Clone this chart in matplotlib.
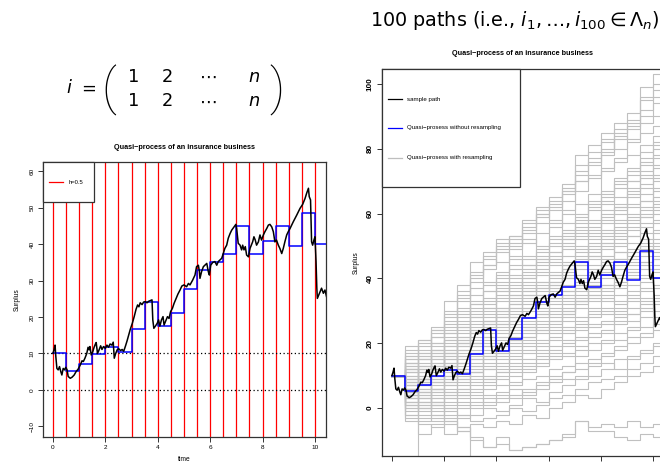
import numpy as np
import matplotlib.pyplot as plt
from matplotlib.patches import Rectangle

plt.rcParams["font.family"] = ["Liberation Sans", "DejaVu Sans"]
plt.rcParams["mathtext.fontset"] = "dejavusans"

# step width of the quasi-process
h = 0.5

# quasi-process without resampling (level on each interval of length h)
blue_levels = [10.0, 5.3, 7.0, 9.9, 11.8, 10.5, 16.8, 24.0, 17.5, 21.2, 27.7,
               32.8, 35.0, 37.2, 45.0, 37.2, 40.9, 45.0, 39.6, 48.6, 40.1]

# sample path of the surplus process
path_t = [0, 0.04, 0.08, 0.11, 0.15, 0.2, 0.25, 0.3, 0.34, 0.39, 0.44, 0.49,
          0.54, 0.58, 0.66, 0.73, 0.81, 0.88, 0.96, 1.04, 1.11, 1.16, 1.22,
          1.29, 1.34, 1.38, 1.41, 1.46, 1.52, 1.57, 1.62, 1.65, 1.70, 1.75,
          1.82, 1.87, 1.93, 2.0, 2.06, 2.12, 2.18, 2.25, 2.3, 2.34, 2.39,
          2.45, 2.51, 2.58, 2.64, 2.7, 2.77, 2.83, 2.89, 2.95, 3.03, 3.1,
          3.17, 3.23, 3.28, 3.33, 3.4, 3.46, 3.52, 3.59, 3.65, 3.71, 3.78,
          3.81, 3.85, 3.91, 3.98, 4.03, 4.08, 4.14, 4.2, 4.24, 4.31, 4.37,
          4.43, 4.49, 4.56, 4.62, 4.7, 4.77, 4.85, 4.92, 5.0, 5.1, 5.17,
          5.23, 5.33, 5.42, 5.48, 5.55, 5.59, 5.61, 5.67, 5.74, 5.8, 5.87,
          5.93, 5.97, 6.02, 6.1, 6.18, 6.25, 6.31, 6.37, 6.44, 6.5, 6.56,
          6.63, 6.69, 6.76, 6.82, 6.91, 6.98, 7.01, 7.07, 7.14, 7.2, 7.24,
          7.29, 7.34, 7.39, 7.46, 7.52, 7.57, 7.62, 7.67, 7.72, 7.77, 7.84,
          7.9, 7.96, 8.03, 8.09, 8.16, 8.22, 8.28, 8.35, 8.41, 8.47, 8.53,
          8.6, 8.66, 8.73, 8.79, 8.85, 8.92, 8.98, 9.05, 9.17, 9.3, 9.43,
          9.53, 9.62, 9.68, 9.75, 9.78, 9.83, 9.87, 9.91, 9.96, 10.0, 10.04,
          10.07, 10.09, 10.17, 10.25, 10.32, 10.38, 10.44]
path_y = [10.0, 11.0, 12.3, 9.1, 5.9, 5.5, 6.4, 5.0, 4.1, 5.9, 5.5, 6.2,
          5.5, 3.7, 3.2, 3.5, 4.1, 5.0, 5.7, 6.8, 8.0, 7.8, 8.7,
          10.0, 11.7, 11.0, 11.9, 9.6, 10.5, 11.7, 12.6, 13.0, 10.0, 10.8,
          12.1, 11.1, 11.9, 11.4, 12.3, 11.7, 12.6, 12.3, 13.1, 8.7, 9.9,
          11.0, 11.3, 10.8, 11.1, 10.6, 12.1, 13.5, 15.1, 16.6, 18.3, 20.1,
          22.1, 23.3, 22.8, 23.9, 23.4, 24.1, 24.2, 23.9, 24.3, 24.5, 24.7,
          19.2, 16.9, 17.5, 18.3, 19.2, 17.5, 19.2, 20.1, 17.8, 19.0, 20.1,
          19.6, 21.5, 22.4, 23.7, 25.1, 26.3, 27.4, 28.5, 28.8, 28.3, 29.2,
          28.8, 30.1, 31.5, 33.8, 34.2, 32.4, 30.6, 32.4, 33.8, 34.2, 34.7,
          32.4, 31.5, 34.2, 35.0, 35.2, 34.2, 35.2, 35.6, 36.1, 37.4, 38.8,
          39.7, 41.6, 42.9, 43.8, 44.7, 45.4, 44.3, 40.2, 39.7, 38.4, 39.7,
          38.4, 39.3, 37.0, 36.5, 38.8, 39.7, 40.6, 42.0, 41.1, 39.7, 40.6,
          42.5, 41.1, 42.5, 43.4, 44.3, 45.2, 45.4, 44.7, 43.4, 40.6, 41.1,
          39.7, 38.8, 37.4, 38.8, 40.6, 42.5, 43.4, 44.3, 46.1, 47.9, 49.8,
          50.9, 52.5, 53.9, 55.3, 53.0, 52.1, 40.6, 39.7, 41.1, 42.0, 35.2,
          27.9, 25.1, 26.5, 27.9, 26.5, 27.4, 25.6]

# quasi-process with resampling, one list per path (levels per interval)
resample_paths = [
    [10, 17, 21, 25, 33, 36, 45, 48, 51, 53, 58, 62, 65, 69, 78, 81, 85, 88, 91, 99, 103],
    [10, 19, 16, 22, 27, 38, 41, 44, 52, 50, 55, 57, 63, 67, 70, 75, 79, 86, 89, 95, 98],
    [10, 12, 18, 24, 29, 31, 40, 46, 45, 53, 51, 59, 61, 64, 73, 77, 83, 80, 87, 92, 96],
    [10, 15, 21, 19, 25, 33, 37, 43, 48, 47, 56, 60, 58, 66, 70, 72, 78, 84, 83, 88, 90],
    [10, 14, 13, 20, 26, 28, 35, 39, 42, 49, 52, 50, 56, 61, 67, 71, 74, 76, 82, 85, 87],
    [10, 9, 15, 17, 23, 30, 29, 36, 40, 44, 46, 54, 57, 60, 63, 66, 73, 77, 78, 81, 84],
    [10, 16, 11, 14, 21, 24, 32, 34, 37, 43, 47, 49, 53, 55, 60, 64, 67, 71, 74, 79, 80],
    [10, 7, 13, 18, 16, 22, 27, 31, 38, 35, 41, 45, 48, 52, 57, 58, 63, 65, 70, 73, 77],
    [10, 13, 9, 12, 19, 25, 23, 28, 33, 39, 37, 43, 46, 50, 53, 56, 59, 62, 67, 69, 72],
    [10, 11, 14, 10, 15, 20, 26, 25, 30, 34, 40, 41, 44, 47, 49, 54, 57, 60, 63, 66, 68],
    [10, 5, 8, 15, 13, 18, 21, 29, 27, 32, 35, 39, 37, 43, 46, 50, 52, 56, 58, 62, 65],
    [10, 8, 12, 11, 17, 14, 19, 23, 26, 29, 33, 34, 40, 42, 45, 48, 49, 53, 55, 59, 61],
    [10, 6, 4, 9, 12, 16, 18, 21, 24, 30, 28, 32, 35, 38, 41, 43, 47, 50, 51, 54, 57],
    [10, 12, 7, 6, 11, 17, 15, 19, 22, 25, 30, 29, 33, 36, 38, 42, 44, 46, 49, 52, 54],
    [10, 3, 6, 8, 7, 13, 16, 17, 20, 23, 26, 30, 28, 32, 35, 37, 40, 43, 45, 47, 50],
    [10, 9, 5, 7, 10, 9, 14, 20, 18, 21, 24, 27, 31, 30, 34, 39, 36, 41, 42, 45, 46],
    [10, 4, 7, 3, 8, 11, 12, 15, 19, 17, 22, 25, 26, 29, 31, 33, 35, 38, 40, 41, 44],
    [10, 7, 2, 5, 4, 8, 10, 13, 14, 19, 20, 21, 24, 27, 28, 31, 34, 32, 36, 39, 42],
    [10, 1, 4, 6, 5, 6, 11, 9, 12, 15, 18, 19, 22, 24, 26, 28, 29, 31, 34, 36, 38],
    [10, 5, 0, 2, 6, 4, 7, 10, 11, 13, 14, 17, 18, 21, 24, 25, 27, 30, 31, 33, 35],
    [10, 2, 3, -1, 1, 3, 5, 6, 9, 8, 12, 13, 15, 17, 19, 22, 23, 26, 27, 30, 32],
    [10, -1, 1, 0, 3, 1, 2, 4, 5, 7, 9, 10, 12, 13, 16, 18, 20, 21, 24, 25, 28],
    [10, 3, -3, 1, -2, 0, 1, 3, 2, 4, 5, 8, 9, 11, 12, 14, 17, 18, 20, 22, 24],
    [10, 0, -2, -4, -1, -3, -2, 0, -1, 1, 3, 2, 5, 7, 9, 10, 12, 15, 16, 17, 20],
    [10, -3, -5, -6, -4, -7, -5, -6, -4, -5, -2, -3, 0, 2, 4, 3, 6, 8, 10, 11, 13],
    [10, -4, -8, -5, -8, -6, -10, -12, -9, -13, -12, -11, -10, -8, -4, -6, -5, -6, -4, -6, -5],
    [10, 1, -30, -30, -30, -30, -30, -30, -30, -30, -30, -30, -30, -30, -30, -30, -30, -30, -30, -30, -30],
    [10, 6, 3, -2, -4, -7, -30, -30, -30, -30, -30, -30, -30, -30, -30, -30, -30, -30, -30, -30, -30],
    [10, 8, 5, 1, -3, -6, -9, -12, -11, -13, -12, -11, -10, -9, -4, -7, -7, -9, -10, -8, -9],
    [10, 8, 10, 13, 16, 14, 20, 24, 22, 27, 31, 33, 36, 34, 39, 44, 45, 48, 47, 51, 55],
    [10, 11, 13, 16, 14, 20, 23, 22, 26, 28, 27, 35, 38, 40, 44, 41, 46, 51, 53, 56, 58],
    [10, 6, 9, 8, 13, 15, 13, 18, 23, 21, 25, 23, 29, 33, 36, 35, 38, 37, 42, 44, 48],
    [10, 9, 6, 10, 9, 12, 17, 16, 17, 24, 22, 28, 30, 31, 33, 38, 41, 44, 44, 48, 51],
    [10, 13, 15, 14, 18, 22, 20, 27, 31, 32, 36, 38, 42, 45, 48, 52, 55, 54, 60, 61, 64],
    [10, 14, 17, 22, 24, 29, 33, 38, 41, 46, 44, 48, 52, 57, 59, 63, 66, 69, 72, 76, 78],
    [10, 12, 10, 17, 20, 23, 30, 32, 35, 36, 42, 46, 45, 51, 55, 53, 60, 62, 66, 71, 74],
    [10, 7, 11, 13, 18, 19, 24, 27, 29, 33, 38, 36, 41, 44, 50, 47, 51, 57, 59, 64, 70],
    [10, 10, 8, 12, 14, 21, 22, 26, 31, 28, 34, 37, 39, 41, 43, 46, 50, 48, 53, 57, 60],
    [10, 5, 9, 10, 12, 16, 19, 22, 25, 27, 31, 31, 34, 36, 40, 42, 42, 46, 48, 50, 52],
    [10, 8, 7, 9, 13, 12, 17, 19, 21, 26, 25, 29, 32, 35, 37, 40, 43, 45, 46, 49, 49],
    [10, 4, 5, 8, 10, 14, 13, 16, 20, 22, 24, 26, 27, 30, 33, 36, 38, 40, 43, 43, 46],
    [10, 6, 8, 6, 9, 11, 15, 14, 16, 18, 21, 24, 25, 28, 32, 34, 33, 35, 38, 40, 43],
    [10, 3, 1, 4, 7, 7, 9, 12, 13, 16, 17, 20, 23, 25, 27, 30, 31, 33, 35, 37, 40],
    [10, 2, 5, 2, 3, 5, 8, 8, 10, 12, 15, 15, 19, 20, 22, 26, 26, 28, 29, 32, 34],
    [10, 0, 2, 3, 2, 4, 4, 7, 7, 10, 11, 14, 16, 16, 18, 20, 21, 23, 25, 28, 30],
    [10, -2, 0, -2, 0, 2, 0, 2, 4, 3, 6, 7, 10, 11, 14, 15, 16, 19, 22, 23, 26],
    [10, 11, 9, 13, 17, 19, 25, 27, 28, 31, 35, 37, 39, 43, 44, 47, 51, 52, 56, 59, 62],
    [10, 15, 17, 20, 23, 27, 32, 36, 39, 41, 44, 47, 51, 53, 56, 61, 64, 68, 70, 75, 81],
    [10, 6, 3, 6, 5, 10, 11, 12, 15, 14, 19, 18, 21, 23, 25, 29, 30, 29, 33, 34, 37],
    [10, 1, -1, 2, 0, -2, 3, 1, 3, 6, 4, 6, 8, 9, 10, 13, 14, 12, 15, 18, 19],
    [10, 18, 20, 23, 30, 34, 39, 44, 49, 52, 54, 60, 64, 67, 75, 79, 82, 85, 88, 96, 100],
    [10, 16, 19, 24, 28, 35, 42, 47, 50, 51, 57, 61, 62, 68, 72, 76, 80, 83, 86, 90, 94],
    [10, 12, 15, 18, 22, 26, 31, 33, 36, 40, 43, 46, 50, 54, 58, 62, 65, 70, 73, 77, 82],
    [10, 9, 12, 16, 19, 21, 28, 30, 34, 37, 39, 42, 47, 49, 52, 55, 58, 61, 65, 68, 71],
    [10, 7, 9, 12, 15, 18, 20, 24, 28, 31, 32, 35, 38, 40, 45, 49, 53, 55, 57, 60, 63],
    [10, 4, 2, 5, 8, 9, 11, 15, 17, 20, 23, 24, 27, 29, 33, 35, 37, 39, 41, 45, 47],
    [10, 2, 0, 1, 4, 6, 6, 9, 11, 11, 13, 16, 17, 19, 21, 23, 24, 27, 29, 31, 33],
    [10, -2, -4, -3, -5, -2, -4, -3, -2, 0, -1, 1, 3, 4, 6, 8, 9, 10, 12, 14, 16],
    [10, 14, 16, 18, 21, 25, 28, 31, 36, 38, 40, 44, 48, 52, 54, 57, 61, 63, 68, 72, 75],
    [10, 10, 12, 15, 17, 20, 24, 26, 30, 35, 36, 39, 41, 44, 47, 51, 54, 58, 62, 64, 67],
]

# entries of the permutation matrix on the slide
matrix_row = ["1", "2", r"\cdots", "n"]

grid = h * np.arange(len(blue_levels) + 1)
title = "Quasi\u2212process of an insurance business"


def r_axes(ax, ylim, yticks, bold=False):
    ax.set_xlim(-0.38, 10.42)
    ax.set_ylim(*ylim)
    ax.set_xticks([0, 2, 4, 6, 8, 10])
    ax.set_yticks(yticks)
    ax.tick_params(direction="out", length=3.6, width=0.7, pad=2.5,
                   labelsize=4.6, color="#333333")
    for lab in ax.get_yticklabels():
        lab.set_rotation(90)
        lab.set_va("center")
        if bold:
            lab.set_fontweight("bold")
            lab.set_fontsize(5.8)
    for s in ax.spines.values():
        s.set_linewidth(0.9)
        s.set_color("#333333")


def r_legend(ax, box, entries, fs):
    x0, y0, w, hh = box
    ax.add_patch(Rectangle((x0, y0), w, hh, transform=ax.transAxes,
                           facecolor="white", edgecolor="#333333", lw=0.9,
                           zorder=10, clip_on=False))
    for ly, color, label in entries:
        ax.plot([x0 + 0.02, x0 + 0.07], [ly, ly], transform=ax.transAxes,
                color=color, lw=0.9, zorder=11)
        ax.text(x0 + 0.09, ly, label, transform=ax.transAxes, fontsize=fs,
                va="center", ha="left", zorder=11)


fig = plt.figure(figsize=(6.6, 4.67), dpi=100)

# slide text: i = ( 1 2 ... n ; 1 2 ... n )
fs_math = 12.8
fig.text(69 / 660, 1 - 88 / 467, r"$i$", fontsize=fs_math, ha="center", va="center")
fig.text(87 / 660, 1 - 88 / 467, r"$=$", fontsize=fs_math, ha="center", va="center")
for col_x, entry in zip([133, 167, 208, 254], matrix_row):
    for row_y in [77, 102]:
        fig.text(col_x / 660, 1 - row_y / 467, "$" + entry + "$",
                 fontsize=fs_math, ha="center", va="center")
for px, paren in [(109, "("), (277, ")")]:
    fig.text(px / 660, 1 - 90 / 467, paren, fontsize=36, ha="center",
             va="center", family="Roboto", fontweight="light")
fig.text(370 / 660, 1 - 20 / 467,
         r"100 paths (i.e., $i_1, \ldots, i_{100} \in \Lambda_n$)",
         fontsize=13.8, ha="left", va="center", family="DejaVu Sans")

# left: quasi-process with h=0.5
ax1 = fig.add_axes([43 / 660, 1 - 437 / 467, 283 / 660, 275 / 467])
for t in grid[:-1]:
    ax1.axvline(t, color="red", lw=0.9, zorder=1)
ax1.axhline(10, color="black", lw=0.9, ls=(0, (1, 2)), zorder=2)
ax1.axhline(0, color="black", lw=0.9, ls=(0, (1, 2)), zorder=2)
ax1.step(grid, blue_levels + [blue_levels[-1]], where="post", color="blue",
         lw=1.1, zorder=3)
ax1.plot(path_t, path_y, color="black", lw=1.1, zorder=4)
r_axes(ax1, (-12.9, 62.5), [-10, 0, 10, 20, 30, 40, 50, 60])
ax1.text(0.5, 1 + 14 / 275, title, transform=ax1.transAxes, ha="center",
         va="center", fontsize=5.2, fontweight="bold")
ax1.set_xlabel("time", fontsize=4.8, labelpad=4)
ax1.set_ylabel("Surplus", fontsize=4.8, labelpad=6)
r_legend(ax1, (0, 1 - 40 / 275, 51 / 283, 40 / 275),
         [(0.927, "red", "h=0.5")], 4.2)

# right: 100 resampled quasi-processes
ax2 = fig.add_axes([382 / 660, 1 - 456 / 467, 282 / 660, 387 / 467])
for p in resample_paths:
    ax2.step(grid, p + [p[-1]], where="post", color="#c0c0c0", lw=0.8,
             zorder=1)
ax2.step(grid, blue_levels + [blue_levels[-1]], where="post", color="blue",
         lw=1.1, zorder=3)
ax2.plot(path_t, path_y, color="black", lw=1.1, zorder=4)
r_axes(ax2, (-14.8, 104.6), [0, 20, 40, 60, 80, 100], bold=True)
ax2.tick_params(axis="x", labelbottom=False)
ax2.text(0.5, 1 + 16 / 387, title, transform=ax2.transAxes, ha="center",
         va="center", fontsize=5.2, fontweight="bold")
ax2.set_ylabel("Surplus", fontsize=4.8, labelpad=5)
r_legend(ax2, (0, 1 - 118 / 387, 138 / 282, 118 / 387),
         [(0.922, "black", "sample path"),
          (0.848, "blue", "Quasi\u2212prosess without resampling"),
          (0.771, "#bebebe", "Quasi\u2212prosess with resampling")], 4.4)

fig.savefig("out.png", dpi=100)
